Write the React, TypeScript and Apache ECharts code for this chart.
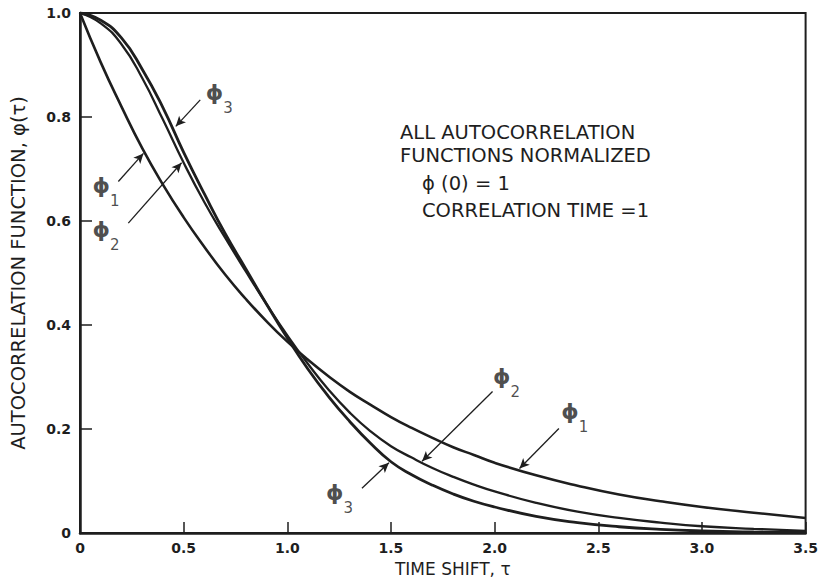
import React, { useEffect, useRef } from "react";
import * as echarts from "echarts";

// Time shift values (tau) where curves were read
const TAU = [0, 0.1, 0.2, 0.3, 0.4, 0.5, 0.6, 0.7, 0.8, 0.9, 1.0, 1.1, 1.2, 1.3, 1.4, 1.5, 1.6, 1.7, 1.8, 1.9, 2.0, 2.2, 2.4, 2.6, 2.8, 3.0, 3.25, 3.5];
// Read-off autocorrelation values
const PHI_1 = [1.0, 0.905, 0.82, 0.74, 0.67, 0.607, 0.55, 0.497, 0.45, 0.407, 0.368, 0.333, 0.301, 0.272, 0.247, 0.223, 0.202, 0.183, 0.165, 0.15, 0.135, 0.111, 0.091, 0.074, 0.061, 0.05, 0.039, 0.029];
const PHI_2 = [1.0, 0.98, 0.94, 0.875, 0.795, 0.712, 0.636, 0.568, 0.503, 0.44, 0.38, 0.325, 0.275, 0.232, 0.196, 0.167, 0.145, 0.125, 0.108, 0.093, 0.08, 0.058, 0.041, 0.029, 0.02, 0.013, 0.008, 0.004];
const PHI_3 = [1.0, 0.986, 0.952, 0.892, 0.818, 0.732, 0.652, 0.576, 0.508, 0.44, 0.375, 0.315, 0.262, 0.215, 0.173, 0.137, 0.112, 0.092, 0.075, 0.061, 0.05, 0.032, 0.02, 0.012, 0.007, 0.004, 0.002, 0.001];

const X_MIN = 0;
const X_MAX = 3.5;
const X_STEP = 0.5;
const Y_MIN = 0;
const Y_MAX = 1.0;
const Y_STEP = 0.2;

const X_NAME = "TIME SHIFT, τ";
const Y_NAME = "AUTOCORRELATION FUNCTION, φ(τ)";
const NOTE_LINES = ["ALL AUTOCORRELATION", "FUNCTIONS NORMALIZED", "ϕ (0) = 1", "CORRELATION TIME =1"];

// annotation placement (data coordinates)
const ARROWS = [
  { from: [0.58, 0.833], to: [0.462, 0.782] },
  { from: [0.185, 0.676], to: [0.306, 0.73] },
  { from: [0.233, 0.596], to: [0.49, 0.712] },
  { from: [1.99, 0.272], to: [1.65, 0.138] },
  { from: [2.31, 0.201], to: [2.12, 0.124] },
  { from: [1.36, 0.086], to: [1.49, 0.135] },
];
const LABELS = [
  { at: [0.672, 0.835], sub: "3" },
  { at: [0.125, 0.656], sub: "1" },
  { at: [0.125, 0.572], sub: "2" },
  { at: [2.057, 0.29], sub: "2" },
  { at: [2.387, 0.223], sub: "1" },
  { at: [1.252, 0.066], sub: "3" },
];

const INK = "#1e1e1e";
const FONT = "DejaVu Sans";

export default function App() {
  const ref = useRef<HTMLDivElement>(null);

  useEffect(() => {
    document.body.style.margin = "0";
    if (!ref.current) return;
    const chart = echarts.init(ref.current, undefined, { renderer: "svg" });

    const curve = (data: number[], width: number) => ({
      type: "line",
      data: TAU.map((t, i) => [t, data[i]]),
      smooth: 0.5,
      showSymbol: false,
      silent: true,
      lineStyle: { color: INK, width },
    });

    const labelData = LABELS.map((l) => ({
      value: l.at,
      label: {
        show: true,
        position: "inside",
        formatter: `{p|ϕ}{s|${l.sub}}`,
        rich: {
          p: { fontSize: 22, fontWeight: "bold", color: INK, fontFamily: FONT, lineHeight: 34, verticalAlign: "top", padding: [0, 0, 12, 0] },
          s: { fontSize: 15, color: INK, fontFamily: FONT, lineHeight: 34, verticalAlign: "bottom", padding: [12, 0, 0, 0] },
        },
      },
    }));

    const textStyle = (text: string) => ({
      text,
      fontSize: 19.5,
      lineHeight: 21,
      fontFamily: FONT,
      fill: INK,
      verticalAlign: "middle",
      align: "left",
    });

    const option: any = {
      animation: false,
      backgroundColor: "#ffffff",
      grid: { left: 80, right: 15, top: 13, bottom: 52, show: true, borderColor: INK, borderWidth: 2, backgroundColor: "transparent" },
      xAxis: {
        type: "value",
        min: X_MIN,
        max: X_MAX,
        interval: X_STEP,
        name: X_NAME,
        nameLocation: "middle",
        nameGap: 27,
        nameTextStyle: { fontSize: 17, color: INK, fontFamily: FONT, padding: [0, 0, 0, 20] },
        axisLine: { lineStyle: { color: INK, width: 2.5 } },
        axisTick: { inside: true, length: 11, lineStyle: { color: INK, width: 1.5 } },
        axisLabel: {
          color: INK,
          fontSize: 14,
          fontWeight: "bold",
          fontFamily: FONT,
          margin: 8,
          formatter: (v: number) => (v === 0 ? "0" : v.toFixed(1)),
        },
        splitLine: { show: false },
      },
      yAxis: {
        type: "value",
        min: Y_MIN,
        max: Y_MAX,
        interval: Y_STEP,
        name: Y_NAME,
        nameLocation: "middle",
        nameRotate: 90,
        nameGap: 52,
        nameTextStyle: { fontSize: 19.5, color: INK, fontFamily: FONT },
        axisLine: { lineStyle: { color: INK, width: 2.5 } },
        axisTick: { inside: true, length: 12, lineStyle: { color: INK, width: 1.5 } },
        axisLabel: {
          color: INK,
          fontSize: 14,
          fontWeight: "bold",
          fontFamily: FONT,
          margin: 9,
          formatter: (v: number) => (v === 0 ? "0" : v.toFixed(1)),
        },
        splitLine: { show: false },
      },
      series: [
        {
          ...curve(PHI_1, 2.6),
          markLine: {
            silent: true,
            symbol: ["none", "arrow"],
            symbolSize: [7, 10],
            label: { show: false },
            lineStyle: { color: INK, width: 1.3, type: "solid" },
            data: ARROWS.map((a) => [{ coord: a.from }, { coord: a.to }]),
          },
        },
        curve(PHI_2, 2.3),
        curve(PHI_3, 2.8),
        {
          type: "scatter",
          symbolSize: 1,
          itemStyle: { color: "rgba(0,0,0,0)" },
          silent: true,
          data: labelData,
        },
      ],
      graphic: [
        { type: "text", x: 400, y: 132, style: textStyle(NOTE_LINES[0]) },
        { type: "text", x: 400, y: 155, style: textStyle(NOTE_LINES[1]) },
        { type: "text", x: 422, y: 183, style: textStyle(NOTE_LINES[2]) },
        { type: "text", x: 422, y: 210, style: textStyle(NOTE_LINES[3]) },
      ],
    };

    chart.setOption(option);
    return () => chart.dispose();
  }, []);

  return <div ref={ref} style={{ width: 821, height: 585 }} />;
}
